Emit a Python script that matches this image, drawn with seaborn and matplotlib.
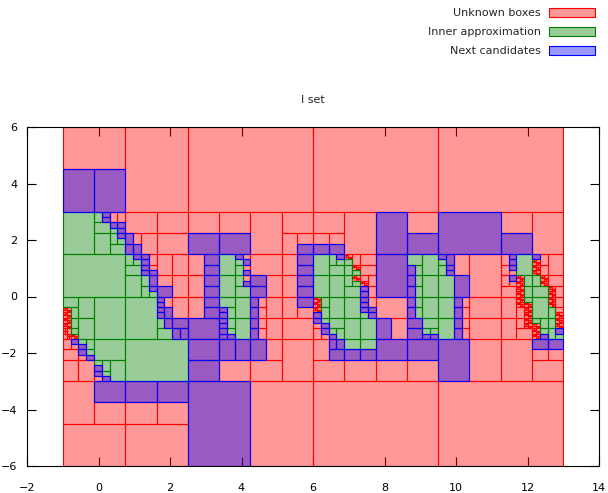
#!/usr/bin/env python3
"""
Paving plot of the I set: unknown boxes, inner approximation and next candidates
"""

import matplotlib
matplotlib.use('Agg')
import matplotlib.pyplot as plt
from matplotlib.patches import Patch
from matplotlib.colors import to_rgba
import seaborn as sns

sns.set_style('ticks')
plt.rcParams['font.family'] = ['DejaVu Sans']

# search domain, bisected along its widest side
domain = (-1.0, 13.0, -6.0, 6.0)
series_labels = ['Unknown boxes', 'Inner approximation', 'Next candidates']
series_colors = ['red', 'green', 'blue']
x_ticks = [-2, 0, 2, 4, 6, 8, 10, 12, 14]
y_ticks = [-6, -4, -2, 0, 2, 4, 6]

# leaves, one subtree per 1.75 x 1.5 cell (row 0 at the bottom)
# r = unknown, g = inner, b = unknown and next candidate, f = unknown split finely
# "(AB)": A is the left / lower half, B the right / upper half
col0 = ['r',
        '(r(rb))',
        '(((rr)((r(r(rb)))(((rb)(bg))((bg)g))))(((((rb)(bg))((bg)g))g)g))',
        '(((((f(fg))((ff)g))g)((((ff)g)g)g))g)',
        'g',
        '(g((g(g(g(gb))))((g(g(bb)))(((gb)(bb))(rr)))))',
        '(bb)',
        'r']
col1 = ['r',
        '((rb)(rb))',
        'g',
        '(g(((g(gb))((bb)b))((((bb)b)((bb)r))r)))',
        '(((g((g(gb))(gb)))((g(g(gb)))(((bb)(br))((bb)r))))(((br)r)(rr)))',
        '(((((bb)(br))r)r)(rr))',
        None, None]
col2 = [None, None,
        '((bb)(r(bb)))',
        '((b(r(bb)))(((((bb)(bg))((bb)g))g)((((bb)g)g)g)))',
        '(((r(bb))(r(bb)))((g(g(g(br))))(g((g(br))((gb)(br))))))',
        '((br)(br))',
        None, None]
col3 = [None, None,
        '((r(br))r)',
        '(((((br)(br))r)(((br)(br))r))(r(r(rb))))',
        '((((bb)r)r)((r(bb))(r(bb))))',
        '(r((r(br))r))',
        None, None]
col4 = [None, None,
        '((r(r(b(bb))))(r((bg)(bg))))',
        '(((((r(rb))((rb)(bg)))(((bg)g)g))((((bf)g)((ff)g))g))((gg)(g(((gb)(bb))((bb)r)))))',
        '(((gg)(g(g(g(gb)))))(((g(g(gf)))(((bb)r)((fr)r)))(((g(gf))((gf)r))(rr))))',
        '((((br)(br))r)r)',
        None, None]
col5 = [None, None,
        '((rb)(rb))',
        '(((br)r)(((bb)(((bg)(bg))g))(((bg)(bg))g)))',
        '(b((((bg)(bg))g)(((bg)g)g)))',
        '(b(br))',
        None, None]
col6 = [None, None,
        '(br)',
        '(((g((br)(br)))(g((br)(br))))(rr))',
        '(((gb)(((g(bb))((gb)b))r))r)',
        'b',
        None, None]
col7 = [None, None,
        '(r(r((rb)(rb))))',
        '(((r(r(r(ff))))(r((r(ff))((ff)(fg)))))'
        '(((((ff)(bg))((fg)g))((g(gb))(g(ff))))(g((g(fr))((ff)r)))))',
        '((((r(r(rb)))(((ff)g)((ff)g)))(((r(rb))(r(bb)))g))'
        '(((g(g(ff)))(((ff)r)r))((((ff)r)((fb)r))r)))',
        '((br)r)',
        None, None]

# coarse levels above the cells; big leaves written directly
skeleton = ('((('
            '((({c0r0}{c0r1})({c1r0}{c1r1}))(({c0r2}{c0r3})({c1r2}{c1r3})))'
            '((br)(({c2r2}{c2r3})({c3r2}{c3r3})))'
            ')('
            '((({c0r4}{c0r5})({c1r4}{c1r5}))(({c0r6}{c0r7})r))'
            '((({c2r4}{c2r5})({c3r4}{c3r5}))r)'
            '))(('
            '(r(({c4r2}{c4r3})({c5r2}{c5r3})))'
            '(r(({c6r2}{c6r3})({c7r2}{c7r3})))'
            ')('
            '((({c4r4}{c4r5})({c5r4}{c5r5}))r)'
            '((({c6r4}{c6r5})({c7r4}{c7r5}))r)'
            ')))')

# fine split of a boundary box: the descending diagonal quarters go one level deeper
FINE = '((r((rr)(rr)))(((rr)(rr))r))'


def walk(tree, i, x0, x1, y0, y1, boxes):
    """Read one node of the bisection tree, return the next index"""
    ch = tree[i]
    if ch == 'f':
        walk(FINE, 0, x0, x1, y0, y1, boxes)
        return i + 1
    if ch != '(':
        box = (x0, y0, x1 - x0, y1 - y0)
        if ch == 'b':
            boxes['r'].append(box)
        boxes[ch].append(box)
        return i + 1
    if x1 - x0 > y1 - y0:
        xm = (x0 + x1) / 2
        i = walk(tree, i + 1, x0, xm, y0, y1, boxes)
        i = walk(tree, i, xm, x1, y0, y1, boxes)
    else:
        ym = (y0 + y1) / 2
        i = walk(tree, i + 1, x0, x1, y0, ym, boxes)
        i = walk(tree, i, x0, x1, ym, y1, boxes)
    if tree[i] != ')':
        raise ValueError('unbalanced tree at %d' % i)
    return i + 1


def build_tree():
    cells = {}
    for c, col in enumerate([col0, col1, col2, col3, col4, col5, col6, col7]):
        for r, sub in enumerate(col):
            if sub is None:
                continue
            # check each cell on its own first
            x0 = domain[0] + 1.75 * c
            y0 = domain[2] + 1.5 * r
            try:
                end = walk(sub, 0, x0, x0 + 1.75, y0, y0 + 1.5, {'r': [], 'g': [], 'b': []})
            except (ValueError, IndexError) as e:
                raise ValueError('cell c%dr%d: %s' % (c, r, e))
            if end != len(sub):
                raise ValueError('cell c%dr%d ends early at %d' % (c, r, end))
            cells['c%dr%d' % (c, r)] = sub
    return skeleton.format(**cells)


def main():
    boxes = {'r': [], 'g': [], 'b': []}
    tree = build_tree()
    end = walk(tree, 0, *domain, boxes)
    if end != len(tree):
        raise ValueError('tree ends early at %d of %d' % (end, len(tree)))

    fig = plt.figure(figsize=(6.08, 4.93), dpi=100)
    ax = fig.add_axes([27 / 608, 1 - 466 / 493, 572 / 608, 339 / 493])

    for key, color in zip(['r', 'g', 'b'], series_colors):
        bx = boxes[key]
        ax.bar([b[0] for b in bx], [b[3] for b in bx],
               width=[b[2] for b in bx], bottom=[b[1] for b in bx],
               align='edge', facecolor=to_rgba(color, 0.4),
               edgecolor=color, linewidth=0.8)

    ax.set_xlim(-2, 14)
    ax.set_ylim(-6, 6)
    ax.set_xticks(x_ticks)
    ax.set_yticks(y_ticks)
    ax.tick_params(direction='in', length=6.5, width=0.8, top=True, right=True,
                   labelsize=8, colors='black')
    ax.tick_params(axis='x', pad=12)
    ax.tick_params(axis='y', pad=7)
    for sp in ax.spines.values():
        sp.set_linewidth(0.8)
        sp.set_color('black')
    ax.set_title('I set', fontsize=8, pad=17)

    handles = [Patch(facecolor=to_rgba(c, 0.4), edgecolor=c, linewidth=0.8)
               for c in series_colors]
    fig.legend(handles, series_labels, loc='upper right',
               bbox_to_anchor=(595 / 608, 1 - 8 / 493), frameon=False,
               markerfirst=False, fontsize=8, handlelength=4.1,
               handleheight=0.8, handletextpad=0.8, labelspacing=0.8,
               borderpad=0, borderaxespad=0)

    fig.savefig('out.png', dpi=100)
    plt.close(fig)


if __name__ == '__main__':
    main()
